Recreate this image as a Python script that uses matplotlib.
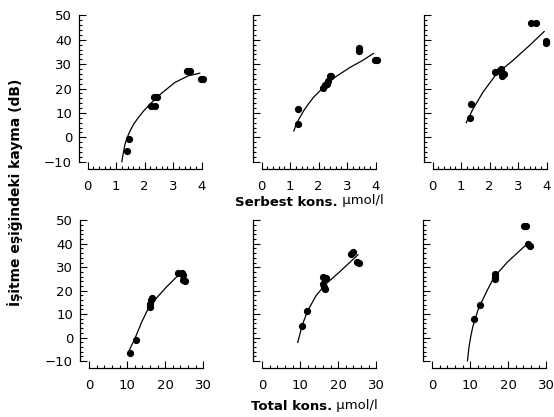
import matplotlib
matplotlib.use("Agg")
import matplotlib.pyplot as plt
from matplotlib.ticker import FixedLocator

plt.rcParams["font.family"] = ["DejaVu Sans"]

# Free (serbest) concentration, µmol/l, vs threshold shift (dB)
free_x_1 = [1.39, 1.45, 2.22, 2.36, 2.34, 2.43, 3.49, 3.58, 3.97, 4.06]
free_y_1 = [-5.6, -0.8, 12.9, 12.9, 16.6, 16.6, 27.3, 27.3, 24.1, 24.1]
free_fit_x_1 = [1.20, 1.26, 1.31, 1.39, 1.49, 1.62, 1.78, 1.95, 2.13, 2.48, 3.06, 3.52, 3.93]
free_fit_y_1 = [-10.0, -6.0, -2.9, 0.0, 2.6, 5.5, 8.1, 10.6, 12.9, 17.0, 22.5, 25.2, 26.3]

free_x_2 = [1.28, 1.28, 2.15, 2.21, 2.29, 2.33, 2.39, 2.45, 3.40, 3.40, 3.96, 4.05]
free_y_2 = [11.5, 5.3, 20.4, 21.4, 21.8, 22.9, 25.2, 25.2, 36.5, 35.3, 31.6, 31.6]
free_fit_x_2 = [1.13, 1.22, 1.34, 1.48, 1.63, 1.82, 2.04, 2.50, 3.09, 3.55, 3.92]
free_fit_y_2 = [2.6, 5.6, 8.1, 11.0, 13.5, 16.4, 19.0, 24.1, 28.6, 31.6, 34.4]

free_x_3 = [1.36, 1.32, 2.20, 2.34, 2.40, 2.42, 2.51, 3.44, 3.62, 3.97, 3.97]
free_y_3 = [13.8, 8.1, 27.0, 27.3, 27.9, 25.2, 25.9, 46.8, 46.8, 39.6, 38.6]
free_fit_x_3 = [1.18, 1.41, 1.76, 2.23, 2.80, 3.38, 3.91]
free_fit_y_3 = [6.0, 11.5, 18.4, 25.9, 31.4, 37.5, 43.4]

# Total concentration, µmol/l, vs threshold shift (dB)
total_x_1 = [10.7, 12.3, 16.1, 16.1, 16.4, 16.6, 23.4, 24.3, 24.7, 24.7, 25.1]
total_y_1 = [-6.4, -0.9, 12.9, 14.4, 16.2, 16.8, 27.6, 27.6, 26.5, 24.4, 24.0]
total_fit_x_1 = [10.5, 12.0, 13.8, 15.5, 17.7, 20.3, 23.4, 24.6]
total_fit_y_1 = [-5.6, -0.6, 6.5, 12.2, 16.8, 21.5, 26.5, 27.4]

total_x_2 = [10.4, 11.8, 15.9, 16.7, 16.1, 16.4, 16.6, 23.8, 23.4, 24.9, 25.6]
total_y_2 = [5.1, 11.3, 22.9, 25.4, 25.8, 21.5, 20.5, 36.5, 35.8, 32.2, 31.9]
total_fit_x_2 = [9.37, 10.5, 12.0, 14.2, 16.8, 20.3, 25.2]
total_fit_y_2 = [-2.1, 5.1, 11.5, 17.9, 22.9, 27.9, 35.3]

total_x_3 = [10.9, 12.5, 16.5, 16.6, 16.5, 24.2, 24.6, 25.1, 25.7]
total_y_3 = [7.7, 13.7, 27.2, 25.8, 25.1, 47.5, 47.5, 40.1, 39.1]
total_fit_x_3 = [9.3, 9.7, 10.2, 10.7, 11.3, 12.1, 13.2, 14.6, 16.3, 19.8, 25.1]
total_fit_y_3 = [-9.9, -4.0, 0.8, 4.6, 7.9, 11.9, 15.8, 20.5, 25.8, 32.2, 40.1]

y_ticks = [-10, 0, 10, 20, 30, 40, 50]
free_ticks = [0, 1, 2, 3, 4]
total_ticks = [0, 10, 20, 30]

W, H = 554, 417
fig = plt.figure(figsize=(W / 100, H / 100), dpi=100)


def px_axes(left, bottom, width, height):
    return fig.add_axes([left / W, (H - bottom) / H, width / W, height / H])


def minor_between(ticks, n):
    out = []
    for a, b in zip(ticks[:-1], ticks[1:]):
        step = (b - a) / n
        out += [a + k * step for k in range(1, n)]
    return out


def style(ax, xlim, xticks, show_y):
    ax.set_xlim(*xlim)
    ax.set_ylim(-13, 51)
    for s in ("top", "right"):
        ax.spines[s].set_visible(False)
    ax.spines["left"].set_bounds(-10, 50)
    ax.spines["bottom"].set_bounds(xticks[0], xticks[-1])
    for s in ("left", "bottom"):
        ax.spines[s].set_linewidth(0.9)
    ax.set_xticks(xticks)
    ax.set_yticks(y_ticks)
    ax.xaxis.set_minor_locator(FixedLocator(minor_between(xticks, 5)))
    ax.yaxis.set_minor_locator(FixedLocator(minor_between(y_ticks, 5)))
    ax.tick_params(which="both", direction="in", width=0.8, labelsize=9.5)
    ax.tick_params(which="major", length=5)
    ax.tick_params(which="minor", length=2.5)
    ax.tick_params(axis="x", pad=8)
    ax.tick_params(axis="y", pad=5)
    if not show_y:
        ax.tick_params(axis="y", labelleft=False)
    ax.patch.set_visible(False)


top_lefts = [79, 253, 424]
bottom_lefts = [80, 253, 423]

free_sets = [
    (free_x_1, free_y_1, free_fit_x_1, free_fit_y_1),
    (free_x_2, free_y_2, free_fit_x_2, free_fit_y_2),
    (free_x_3, free_y_3, free_fit_x_3, free_fit_y_3),
]
total_sets = [
    (total_x_1, total_y_1, total_fit_x_1, total_fit_y_1),
    (total_x_2, total_y_2, total_fit_x_2, total_fit_y_2),
    (total_x_3, total_y_3, total_fit_x_3, total_fit_y_3),
]

for i, (xs, ys, fx, fy) in enumerate(free_sets):
    ax = px_axes(top_lefts[i], 169, 127, 156)
    style(ax, (-0.3, 4.15), free_ticks, i == 0)
    ax.plot(fx, fy, color="black", lw=0.9)
    ax.plot(xs, ys, "o", color="black", ms=4.2, mec="black")

for i, (xs, ys, fx, fy) in enumerate(total_sets):
    ax = px_axes(bottom_lefts[i], 368, 127, 150)
    style(ax, (-2.4, 31.0), total_ticks, i == 0)
    ax.plot(fx, fy, color="black", lw=0.9)
    ax.plot(xs, ys, "o", color="black", ms=4.2, mec="black")


def axis_title(x_px, y_px, name):
    """Bold quantity name followed by the unit in normal weight."""
    t = fig.text(x_px / W, (H - y_px) / H, name, fontsize=9.5,
                 fontweight="bold", va="center", ha="left")
    fig.canvas.draw()
    bb = t.get_window_extent().transformed(fig.transFigure.inverted())
    fig.text(bb.x1, bb.y0 + 0.004, " µmol/l", fontsize=9.5,
             va="bottom", ha="left")


axis_title(235, 202, "Serbest kons.")
axis_title(251, 407, "Total kons.")

fig.text(15 / W, (H - 192) / H, "İşitme eşiğindeki kayma (dB)", fontsize=10,
         fontweight="bold", rotation=90, va="center", ha="center")

fig.savefig("out.png", dpi=100)
